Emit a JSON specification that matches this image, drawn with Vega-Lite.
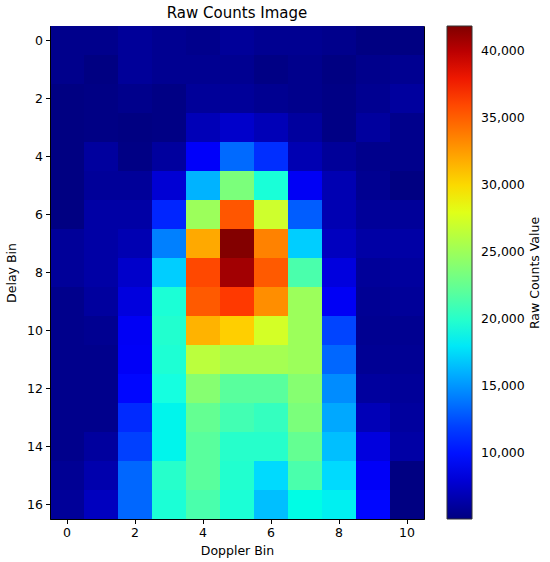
{
  "$schema": "https://vega.github.io/schema/vega-lite/v6.json",
  "autosize": "none",
  "padding": {"left": 50, "top": 26, "right": 126, "bottom": 43},
  "width": 374,
  "height": 493,
  "title": {"text": "Raw Counts Image", "font": "DejaVu Sans", "fontSize": 15, "fontWeight": "normal", "color": "black", "offset": 5},
  "config": {
    "font": "DejaVu Sans",
    "view": {"stroke": "black", "strokeWidth": 1},
    "axis": {"labelFont": "DejaVu Sans", "titleFont": "DejaVu Sans", "labelFontSize": 12.5, "titleFontSize": 12.5, "titleFontWeight": "normal", "labelColor": "black", "titleColor": "black", "tickColor": "black", "domainColor": "black", "tickSize": 4.5, "labelPadding": 3, "grid": false}
  },
  "data": {"values": [
    {"r":0,"c":0,"v":5500},{"r":0,"c":1,"v":5500},{"r":0,"c":2,"v":5910},{"r":0,"c":3,"v":5670},{"r":0,"c":4,"v":5500},{"r":0,"c":5,"v":5910},{"r":0,"c":6,"v":5670},{"r":0,"c":7,"v":5670},{"r":0,"c":8,"v":5500},{"r":0,"c":9,"v":5150},{"r":0,"c":10,"v":5150},
    {"r":1,"c":0,"v":5500},{"r":1,"c":1,"v":5150},{"r":1,"c":2,"v":5910},{"r":1,"c":3,"v":5670},{"r":1,"c":4,"v":5670},{"r":1,"c":5,"v":5670},{"r":1,"c":6,"v":5260},{"r":1,"c":7,"v":5500},{"r":1,"c":8,"v":5150},{"r":1,"c":9,"v":5500},{"r":1,"c":10,"v":5670},
    {"r":2,"c":0,"v":5150},{"r":2,"c":1,"v":5260},{"r":2,"c":2,"v":5500},{"r":2,"c":3,"v":5260},{"r":2,"c":4,"v":5910},{"r":2,"c":5,"v":5910},{"r":2,"c":6,"v":5670},{"r":2,"c":7,"v":5500},{"r":2,"c":8,"v":5260},{"r":2,"c":9,"v":5670},{"r":2,"c":10,"v":6070},
    {"r":3,"c":0,"v":5150},{"r":3,"c":1,"v":5260},{"r":3,"c":2,"v":5150},{"r":3,"c":3,"v":5260},{"r":3,"c":4,"v":6880},{"r":3,"c":5,"v":7530},{"r":3,"c":6,"v":6880},{"r":3,"c":7,"v":6070},{"r":3,"c":8,"v":5260},{"r":3,"c":9,"v":6070},{"r":3,"c":10,"v":5500},
    {"r":4,"c":0,"v":5150},{"r":4,"c":1,"v":6070},{"r":4,"c":2,"v":5260},{"r":4,"c":3,"v":6070},{"r":4,"c":4,"v":9500},{"r":4,"c":5,"v":13400},{"r":4,"c":6,"v":11000},{"r":4,"c":7,"v":6720},{"r":4,"c":8,"v":5910},{"r":4,"c":9,"v":5500},{"r":4,"c":10,"v":5500},
    {"r":5,"c":0,"v":5150},{"r":5,"c":1,"v":5910},{"r":5,"c":2,"v":5910},{"r":5,"c":3,"v":7930},{"r":5,"c":4,"v":16100},{"r":5,"c":5,"v":23500},{"r":5,"c":6,"v":19400},{"r":5,"c":7,"v":9300},{"r":5,"c":8,"v":6720},{"r":5,"c":9,"v":5670},{"r":5,"c":10,"v":5150},
    {"r":6,"c":0,"v":5150},{"r":6,"c":1,"v":6310},{"r":6,"c":2,"v":6310},{"r":6,"c":3,"v":10600},{"r":6,"c":4,"v":25000},{"r":6,"c":5,"v":35300},{"r":6,"c":6,"v":27200},{"r":6,"c":7,"v":12900},{"r":6,"c":8,"v":6720},{"r":6,"c":9,"v":5910},{"r":6,"c":10,"v":5910},
    {"r":7,"c":0,"v":5910},{"r":7,"c":1,"v":6310},{"r":7,"c":2,"v":6720},{"r":7,"c":3,"v":14300},{"r":7,"c":4,"v":32000},{"r":7,"c":5,"v":41800},{"r":7,"c":6,"v":33600},{"r":7,"c":7,"v":17100},{"r":7,"c":8,"v":7120},{"r":7,"c":9,"v":6310},{"r":7,"c":10,"v":6310},
    {"r":8,"c":0,"v":5910},{"r":8,"c":1,"v":6310},{"r":8,"c":2,"v":7530},{"r":8,"c":3,"v":17100},{"r":8,"c":4,"v":36000},{"r":8,"c":5,"v":40800},{"r":8,"c":6,"v":35100},{"r":8,"c":7,"v":21300},{"r":8,"c":8,"v":8340},{"r":8,"c":9,"v":5910},{"r":8,"c":10,"v":6070},
    {"r":9,"c":0,"v":5500},{"r":9,"c":1,"v":6070},{"r":9,"c":2,"v":8340},{"r":9,"c":3,"v":19500},{"r":9,"c":4,"v":35100},{"r":9,"c":5,"v":36600},{"r":9,"c":6,"v":33100},{"r":9,"c":7,"v":25000},{"r":9,"c":8,"v":9300},{"r":9,"c":9,"v":5750},{"r":9,"c":10,"v":5910},
    {"r":10,"c":0,"v":5500},{"r":10,"c":1,"v":5670},{"r":10,"c":2,"v":9300},{"r":10,"c":3,"v":19800},{"r":10,"c":4,"v":31600},{"r":10,"c":5,"v":30500},{"r":10,"c":6,"v":27500},{"r":10,"c":7,"v":25000},{"r":10,"c":8,"v":12100},{"r":10,"c":9,"v":5670},{"r":10,"c":10,"v":5670},
    {"r":11,"c":0,"v":5500},{"r":11,"c":1,"v":5500},{"r":11,"c":2,"v":9400},{"r":11,"c":3,"v":19600},{"r":11,"c":4,"v":26400},{"r":11,"c":5,"v":25400},{"r":11,"c":6,"v":25400},{"r":11,"c":7,"v":25000},{"r":11,"c":8,"v":13300},{"r":11,"c":9,"v":5750},{"r":11,"c":10,"v":5750},
    {"r":12,"c":0,"v":5500},{"r":12,"c":1,"v":5500},{"r":12,"c":2,"v":9800},{"r":12,"c":3,"v":19000},{"r":12,"c":4,"v":24000},{"r":12,"c":5,"v":22000},{"r":12,"c":6,"v":22000},{"r":12,"c":7,"v":24000},{"r":12,"c":8,"v":14700},{"r":12,"c":9,"v":6070},{"r":12,"c":10,"v":5910},
    {"r":13,"c":0,"v":5500},{"r":13,"c":1,"v":5500},{"r":13,"c":2,"v":10800},{"r":13,"c":3,"v":18500},{"r":13,"c":4,"v":22500},{"r":13,"c":5,"v":21000},{"r":13,"c":6,"v":20500},{"r":13,"c":7,"v":23500},{"r":13,"c":8,"v":15700},{"r":13,"c":9,"v":6880},{"r":13,"c":10,"v":6070},
    {"r":14,"c":0,"v":5500},{"r":14,"c":1,"v":6070},{"r":14,"c":2,"v":12000},{"r":14,"c":3,"v":18500},{"r":14,"c":4,"v":22000},{"r":14,"c":5,"v":20000},{"r":14,"c":6,"v":20000},{"r":14,"c":7,"v":22500},{"r":14,"c":8,"v":16600},{"r":14,"c":9,"v":8340},{"r":14,"c":10,"v":6310},
    {"r":15,"c":0,"v":5750},{"r":15,"c":1,"v":6560},{"r":15,"c":2,"v":13300},{"r":15,"c":3,"v":20000},{"r":15,"c":4,"v":22000},{"r":15,"c":5,"v":19800},{"r":15,"c":6,"v":17500},{"r":15,"c":7,"v":21300},{"r":15,"c":8,"v":17500},{"r":15,"c":9,"v":9400},{"r":15,"c":10,"v":5150},
    {"r":16,"c":0,"v":5910},{"r":16,"c":1,"v":7120},{"r":16,"c":2,"v":13300},{"r":16,"c":3,"v":19500},{"r":16,"c":4,"v":21300},{"r":16,"c":5,"v":19500},{"r":16,"c":6,"v":16600},{"r":16,"c":7,"v":18800},{"r":16,"c":8,"v":18300},{"r":16,"c":9,"v":9800},{"r":16,"c":10,"v":5150}
  ]},
  "mark": {"type": "rect"},
  "encoding": {
    "x": {"field": "c", "type": "ordinal", "title": "Doppler Bin",
          "scale": {"paddingInner": 0, "paddingOuter": 0},
          "axis": {"values": [0, 2, 4, 6, 8, 10], "labelAngle": 0, "titlePadding": 5}},
    "y": {"field": "r", "type": "ordinal", "title": "Delay Bin",
          "scale": {"paddingInner": 0, "paddingOuter": 0},
          "axis": {"values": [0, 2, 4, 6, 8, 10, 12, 14, 16], "titlePadding": 8}},
    "color": {"field": "v", "type": "quantitative", "title": "Raw Counts Value",
      "scale": {"domain": [5100, 41900], "zero": false, "clamp": true,
        "range": ["#000080", "#0000c8", "#0000ff", "#0040ff", "#0080ff", "#00bfff", "#15ffe2", "#48ffae", "#7bff7b", "#aeff48", "#e2ff15", "#ffd200", "#ff9700", "#ff5c00", "#ff2100", "#c80000", "#800000"]},
      "legend": {"type": "gradient", "orient": "right", "offset": 23, "gradientLength": 493, "gradientThickness": 25,
        "gradientStrokeColor": "#333333", "gradientStrokeWidth": 1,
        "values": [10000, 15000, 20000, 25000, 30000, 35000, 40000], "format": ",d",
        "labelFont": "DejaVu Sans", "labelFontSize": 12.5, "labelColor": "black", "labelOffset": 9,
        "titleFont": "DejaVu Sans", "titleFontSize": 12.5, "titleFontWeight": "normal", "titleColor": "black",
        "titleOrient": "right", "titleAnchor": "middle", "titleBaseline": "top", "titlePadding": 4,
        "encode": {"title": {"update": {"angle": {"value": 270}}}}}}
  }
}
